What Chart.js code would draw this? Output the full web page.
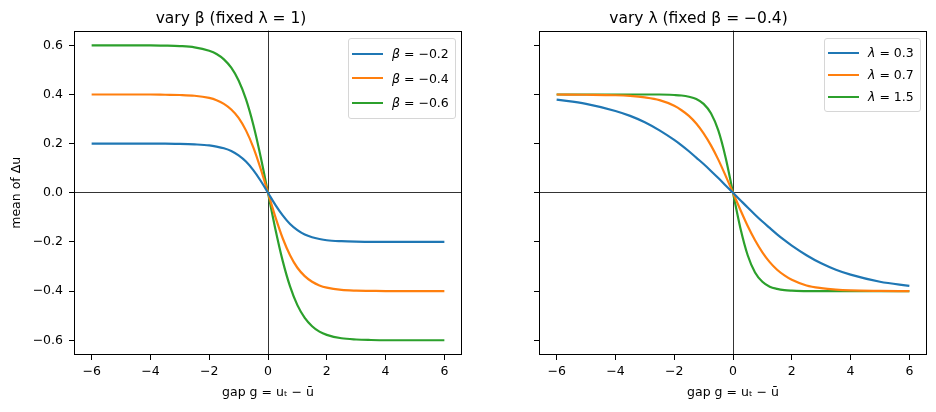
<!DOCTYPE html>
<html>
<head>
<meta charset="utf-8">
<script src="https://cdn.jsdelivr.net/npm/chart.js@4.4.1/dist/chart.umd.min.js"></script>
<style>
    html, body { margin: 0; padding: 0; background: #fff; }
    #wrap { position: relative; width: 936px; height: 412px; font-family: "DejaVu Sans", sans-serif; }
    .panel { position: absolute; top: 0; height: 412px; }
    #p1 { left: 0; width: 470px; }
    #p2 { left: 470px; width: 466px; }
    .legend {
        position: absolute;
        background: rgba(255, 255, 255, 0.8);
        border: 1px solid #d6d6d6;
        border-radius: 3px;
        padding: 3px 6px 3px 3px;
        font-size: 12.5px;
        color: #000;
        white-space: nowrap;
    }
    .legend .row { display: flex; align-items: center; }
    .legend .swatch { width: 31px; height: 2px; margin-right: 9px; }
</style>
</head>
<body>
<div id="wrap">
    <div class="panel" id="p1"><canvas id="c1"></canvas><div class="legend" id="l1"></div></div>
    <div class="panel" id="p2"><canvas id="c2"></canvas><div class="legend" id="l2"></div></div>
</div>
<script>
// === DATA ===
const gap = [-6, -5, -4, -3.5, -3, -2.5, -2, -1.75, -1.5, -1.25, -1, -0.75, -0.5, -0.25, 0,
             0.25, 0.5, 0.75, 1, 1.25, 1.5, 1.75, 2, 2.5, 3, 3.5, 4, 5, 6];

// left panel: vary beta (lambda = 1)
const betaLabels = ["β = −0.2", "β = −0.4", "β = −0.6"];
const betaM02 = [0.200, 0.200, 0.200, 0.200, 0.199, 0.197, 0.193, 0.188, 0.181, 0.170, 0.152, 0.127, 0.092, 0.049, 0,
                 -0.049, -0.092, -0.127, -0.152, -0.170, -0.181, -0.188, -0.193, -0.197, -0.199, -0.200, -0.200, -0.200, -0.200];
const betaM04 = [0.400, 0.400, 0.400, 0.399, 0.398, 0.395, 0.386, 0.377, 0.362, 0.339, 0.305, 0.254, 0.185, 0.098, 0,
                 -0.098, -0.185, -0.254, -0.305, -0.339, -0.362, -0.377, -0.386, -0.395, -0.398, -0.399, -0.400, -0.400, -0.400];
const betaM06 = [0.600, 0.600, 0.600, 0.599, 0.597, 0.592, 0.578, 0.565, 0.543, 0.509, 0.457, 0.381, 0.277, 0.147, 0,
                 -0.147, -0.277, -0.381, -0.457, -0.509, -0.543, -0.565, -0.578, -0.592, -0.597, -0.599, -0.600, -0.600, -0.600];

// right panel: vary lambda (beta = -0.4)
const lambdaLabels = ["λ = 0.3", "λ = 0.7", "λ = 1.5"];
const lam03 = [0.379, 0.362, 0.333, 0.313, 0.287, 0.254, 0.215, 0.193, 0.169, 0.143, 0.117, 0.089, 0.060, 0.030, 0,
               -0.030, -0.060, -0.089, -0.117, -0.143, -0.169, -0.193, -0.215, -0.254, -0.287, -0.313, -0.333, -0.362, -0.379];
const lam07 = [0.400, 0.399, 0.397, 0.394, 0.388, 0.377, 0.354, 0.336, 0.313, 0.282, 0.242, 0.193, 0.135, 0.069, 0,
               -0.069, -0.135, -0.193, -0.242, -0.282, -0.313, -0.336, -0.354, -0.377, -0.388, -0.394, -0.397, -0.399, -0.400];
const lam15 = [0.400, 0.400, 0.400, 0.400, 0.400, 0.400, 0.398, 0.396, 0.391, 0.382, 0.362, 0.324, 0.254, 0.143, 0,
               -0.143, -0.254, -0.324, -0.362, -0.382, -0.391, -0.396, -0.398, -0.400, -0.400, -0.400, -0.400, -0.400, -0.400];

const xTicks = [-6, -4, -2, 0, 2, 4, 6];
const yTicks = [-0.6, -0.4, -0.2, 0.0, 0.2, 0.4, 0.6];

// === STYLE ===
const FONT = "DejaVu Sans";
const COLORS = ["#1f77b4", "#ff7f0e", "#2ca02c"];

const minus = (s) => s.replace("-", "\u2212");

function toPoints(ys) {
    return gap.map((g, i) => ({ x: g, y: ys[i] }));
}

// frame on all four sides like matplotlib spines
const framePlugin = {
    id: "frame",
    afterDatasetsDraw(chart) {
        const { ctx, chartArea: a } = chart;
        ctx.save();
        ctx.strokeStyle = "#000";
        ctx.lineWidth = 1;
        ctx.strokeRect(Math.round(a.left) + 0.5, Math.round(a.top) + 0.5,
                       Math.round(a.right - a.left) - 1, Math.round(a.bottom - a.top) - 1);
        ctx.restore();
    },
};

// html legend placed inside the plot, top right
function legendPlugin(legendId, rowHeight) {
    return {
        id: "htmlLegend",
        afterRender(chart) {
            const box = document.getElementById(legendId);
            if (box.dataset.done) return;
            box.dataset.done = "1";
            chart.data.datasets.forEach((ds) => {
                const row = document.createElement("div");
                row.className = "row";
                row.style.height = rowHeight + "px";
                const sw = document.createElement("span");
                sw.className = "swatch";
                sw.style.background = ds.borderColor;
                const txt = document.createElement("span");
                txt.innerHTML = "<i>" + ds.label.charAt(0) + "</i>" + ds.label.slice(1);
                row.appendChild(sw);
                row.appendChild(txt);
                box.appendChild(row);
            });
            const a = chart.chartArea;
            box.style.top = a.top + 7 + "px";
            box.style.left = a.right - 6 - box.offsetWidth + "px";
        },
    };
}

function makePanel(canvasId, legendId, opts) {
    const datasets = opts.series.map((ys, i) => ({
        label: opts.labels[i],
        data: toPoints(ys),
        borderColor: COLORS[i],
        backgroundColor: COLORS[i],
        borderWidth: 2.2,
        pointRadius: 0,
        cubicInterpolationMode: "monotone",
        fill: false,
    }));

    const zeroGrid = (c) => (c.tick && c.tick.value === 0 ? "#000" : "rgba(0,0,0,0)");

    return new Chart(document.getElementById(canvasId), {
        type: "line",
        data: { datasets },
        plugins: [framePlugin, legendPlugin(legendId, opts.rowHeight)],
        options: {
            responsive: true,
            maintainAspectRatio: false,
            animation: false,
            layout: { padding: { left: 0, right: opts.padRight, top: 0, bottom: 0 } },
            plugins: {
                legend: { display: false },
                tooltip: { enabled: false },
                title: {
                    display: true,
                    text: opts.title,
                    color: "#000",
                    font: { family: FONT, size: 15.5, weight: "normal" },
                    padding: { top: 10, bottom: 2 },
                },
            },
            scales: {
                x: {
                    type: "linear",
                    min: -6.6,
                    max: 6.6,
                    afterBuildTicks: (s) => { s.ticks = xTicks.map((v) => ({ value: v })); },
                    afterFit: (s) => { s.height = 57; },
                    ticks: {
                        autoSkip: false,
                        maxRotation: 0,
                        padding: 4,
                        color: "#000",
                        font: { family: FONT, size: 12.5 },
                        callback: (v) => minus(String(v)),
                    },
                    grid: { color: zeroGrid, lineWidth: 0.8, tickColor: "#000", tickLength: 5, tickWidth: 1 },
                    border: { display: false },
                    title: {
                        display: true,
                        text: "gap g = uₜ − ū",
                        color: "#000",
                        font: { family: FONT, size: 12.5 },
                        padding: { top: 0, bottom: 12 },
                    },
                },
                y: {
                    type: "linear",
                    min: -0.66,
                    max: 0.66,
                    afterBuildTicks: (s) => { s.ticks = yTicks.map((v) => ({ value: v })); },
                    afterFit: (s) => { s.width = opts.axisLeft; },
                    ticks: {
                        display: opts.showYLabels,
                        autoSkip: false,
                        padding: 6,
                        color: "#000",
                        font: { family: FONT, size: 12.5 },
                        callback: (v) => minus(v.toFixed(1)),
                    },
                    grid: { color: zeroGrid, lineWidth: 0.8, tickColor: "#000", tickLength: 5, tickWidth: 1 },
                    border: { display: false },
                    title: {
                        display: opts.showYLabels,
                        text: "mean of Δu",
                        color: "#000",
                        font: { family: FONT, size: 12.5 },
                        padding: { top: 9, bottom: 0 },
                    },
                },
            },
        },
    });
}

makePanel("c1", "l1", {
    title: "vary β (fixed λ = 1)",
    labels: betaLabels,
    series: [betaM02, betaM04, betaM06],
    axisLeft: 74,
    padRight: 8,
    showYLabels: true,
    rowHeight: 24.5,
});

makePanel("c2", "l2", {
    title: "vary λ (fixed β = −0.4)",
    labels: lambdaLabels,
    series: [lam03, lam07, lam15],
    axisLeft: 69,
    padRight: 9,
    showYLabels: false,
    rowHeight: 22,
});
</script>
</body>
</html>
